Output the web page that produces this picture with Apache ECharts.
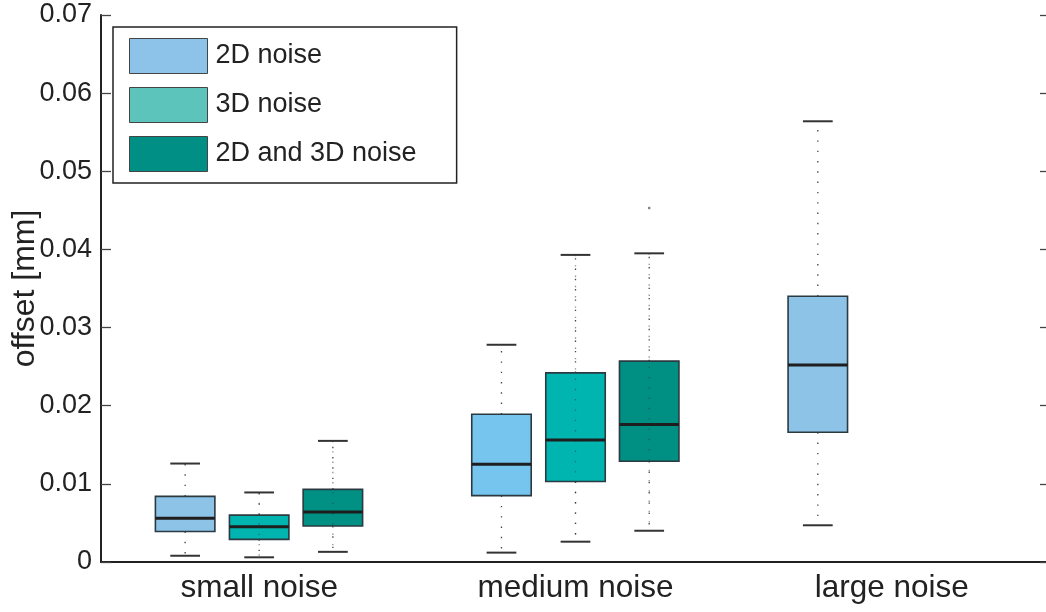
<!DOCTYPE html>
<html><head><meta charset="utf-8">
<script src="https://cdn.jsdelivr.net/npm/echarts@6/dist/echarts.min.js"></script>
<style>html,body{margin:0;padding:0;background:#fff}#c{width:1046px;height:612px}</style>
</head><body><div id="c"></div>
<script>
// ---- data ----
const categories = ['small noise', 'medium noise', 'large noise'];
const seriesNames = ['2D noise', '3D noise', '2D and 3D noise'];
// [categoryIndex, lowerWhisker, q1, median, q3, upperWhisker]
const noise2D = [
  [0, 0.0008, 0.0039, 0.0056, 0.0084, 0.0126],
  [1, 0.0012, 0.0085, 0.0125, 0.0189, 0.0278],
  [2, 0.0047, 0.0166, 0.0252, 0.0340, 0.0564]
];
const noise3D = [
  [0, 0.0006, 0.0029, 0.0045, 0.0060, 0.0089],
  [1, 0.0026, 0.0103, 0.0156, 0.0242, 0.0393]
];
const noise2D3D = [
  [0, 0.0013, 0.0046, 0.0064, 0.0093, 0.0155],
  [1, 0.0040, 0.0129, 0.0176, 0.0257, 0.0395]
];
// [categoryIndex, value] outliers of the "2D and 3D noise" group
const outliers2D3D = [[1, 0.0453]];
const yMin = 0, yMax = 0.07, yStep = 0.01;

// ---- styles ----
const FONT = '"Liberation Sans", Arial, Helvetica, sans-serif';
const legendColors = ['#8dc3e8', '#5cc4bb', '#008f84'];
const boxColors = [
  ['#8ec3e8', '#75c5ef', '#8ec3e8'],
  ['#00b5b0', '#00b4b0'],
  ['#009084', '#008f83']
];
const offsets = [-0.234, 0, 0.233];   // fraction of category band
const boxW = 0.188, capW = 0.094;

function makeRender(si) {
  return function (params, api) {
    const c = api.value(0);
    const base = api.coord([c, 0]);
    const band = api.size([1, 0])[0];
    const cx = base[0] + offsets[si] * band;
    const w = boxW * band, cw = capW * band;
    const y = k => api.coord([c, api.value(k)])[1];
    const yLo = y(1), yQ1 = y(2), yMed = y(3), yQ3 = y(4), yHi = y(5);
    const color = boxColors[si][params.dataIndex];
    const dot = { stroke: '#444', lineWidth: 1.3, lineDash: [1.4, 8.9] };
    const cap = { stroke: '#333', lineWidth: 2 };
    const children = [
      { type: 'line', shape: { x1: cx, y1: yQ3, x2: cx, y2: yHi }, style: dot },
      { type: 'line', shape: { x1: cx, y1: yQ1, x2: cx, y2: yLo }, style: dot },
      { type: 'line', shape: { x1: cx - cw / 2, y1: yHi, x2: cx + cw / 2, y2: yHi }, style: cap },
      { type: 'line', shape: { x1: cx - cw / 2, y1: yLo, x2: cx + cw / 2, y2: yLo }, style: cap },
      { type: 'rect', shape: { x: cx - w / 2, y: yQ3, width: w, height: yQ1 - yQ3 },
        style: { fill: color, stroke: '#2b3a40', lineWidth: 1.6 } }
    ];
    if (si > 0) {
      children.push({ type: 'line', shape: { x1: cx, y1: yHi, x2: cx, y2: yLo },
        style: { stroke: 'rgba(40,60,60,0.55)', lineWidth: 1.3, lineDash: [1.4, 8.9] } });
    }
    children.push({ type: 'line', shape: { x1: cx - w / 2, y1: yMed, x2: cx + w / 2, y2: yMed },
      style: { stroke: '#1e1e1e', lineWidth: 3 } });
    return { type: 'group', children };
  };
}

function renderOutlier(params, api) {
  const c = api.value(0);
  const p = api.coord([c, api.value(1)]);
  const band = api.size([1, 0])[0];
  const cx = p[0] + offsets[2] * band;
  return { type: 'rect', shape: { x: cx - 1.2, y: p[1] - 1.2, width: 2.4, height: 2.4 },
    style: { fill: '#888' } };
}

const chart = echarts.init(document.getElementById('c'), null, { renderer: 'canvas' });
const seriesData = [noise2D, noise3D, noise2D3D];

const option = {
  animation: false,
  backgroundColor: '#fff',
  grid: { left: 101, top: 15, right: -4, bottom: 50, containLabel: false, outerBoundsMode: 'none' },
  legend: {
    orient: 'vertical', left: 113, top: 27,
    padding: [11, 40, 11, 16],
    itemWidth: 78, itemHeight: 35, itemGap: 13,
    borderColor: '#222', borderWidth: 1.5,
    selectedMode: false,
    icon: 'rect',
    textStyle: { fontSize: 27, color: '#222', fontFamily: FONT, padding: [0, 0, 0, 3] },
    data: seriesNames.map((n, i) => ({
      name: n,
      itemStyle: { color: legendColors[i], borderColor: '#444', borderWidth: 1 }
    }))
  },
  xAxis: [
    {
      type: 'category', data: categories, position: 'bottom',
      axisLine: { lineStyle: { color: '#222', width: 2 } },
      axisTick: { inside: true, alignWithLabel: true, length: 10, lineStyle: { color: '#444', width: 1.3 } },
      axisLabel: { fontSize: 31.5, color: '#222', margin: 10, fontFamily: FONT },
      splitLine: { show: false }
    },
    {
      type: 'category', data: categories, position: 'top',
      axisLine: { lineStyle: { color: '#222', width: 1.5 } },
      axisTick: { inside: true, alignWithLabel: true, length: 8, lineStyle: { color: '#444', width: 1.3 } },
      axisLabel: { show: false },
      splitLine: { show: false }
    }
  ],
  yAxis: [
    {
      type: 'value', min: yMin, max: yMax, interval: yStep, position: 'left',
      axisLine: { show: true, lineStyle: { color: '#222', width: 2 } },
      axisTick: { show: true, inside: true, length: 10, lineStyle: { color: '#444', width: 1.3 } },
      axisLabel: { fontSize: 27, color: '#222', margin: 9, fontFamily: FONT,
        formatter: v => (v === 0 ? '0' : v.toFixed(2)) },
      splitLine: { show: false },
      name: 'offset [mm]', nameLocation: 'middle', nameGap: 60, nameMoveOverlap: false,
      nameTextStyle: { fontSize: 32, color: '#222', fontFamily: FONT }
    },
    {
      type: 'value', min: yMin, max: yMax, interval: yStep, position: 'right',
      axisLine: { show: true, lineStyle: { color: '#222', width: 1.5 } },
      axisTick: { show: true, inside: true, length: 10, lineStyle: { color: '#444', width: 1.3 } },
      axisLabel: { show: false },
      splitLine: { show: false }
    }
  ],
  series: seriesData.map((d, i) => ({
    type: 'custom', name: seriesNames[i], xAxisIndex: 0, yAxisIndex: 0,
    renderItem: makeRender(i),
    encode: { x: 0, y: [1, 2, 3, 4, 5] },
    itemStyle: { color: legendColors[i] },
    data: d
  })).concat([{
    type: 'custom', name: 'outliers', xAxisIndex: 0, yAxisIndex: 0,
    renderItem: renderOutlier,
    encode: { x: 0, y: 1 },
    data: outliers2D3D
  }])
};
chart.setOption(option);
</script>
</body></html>
